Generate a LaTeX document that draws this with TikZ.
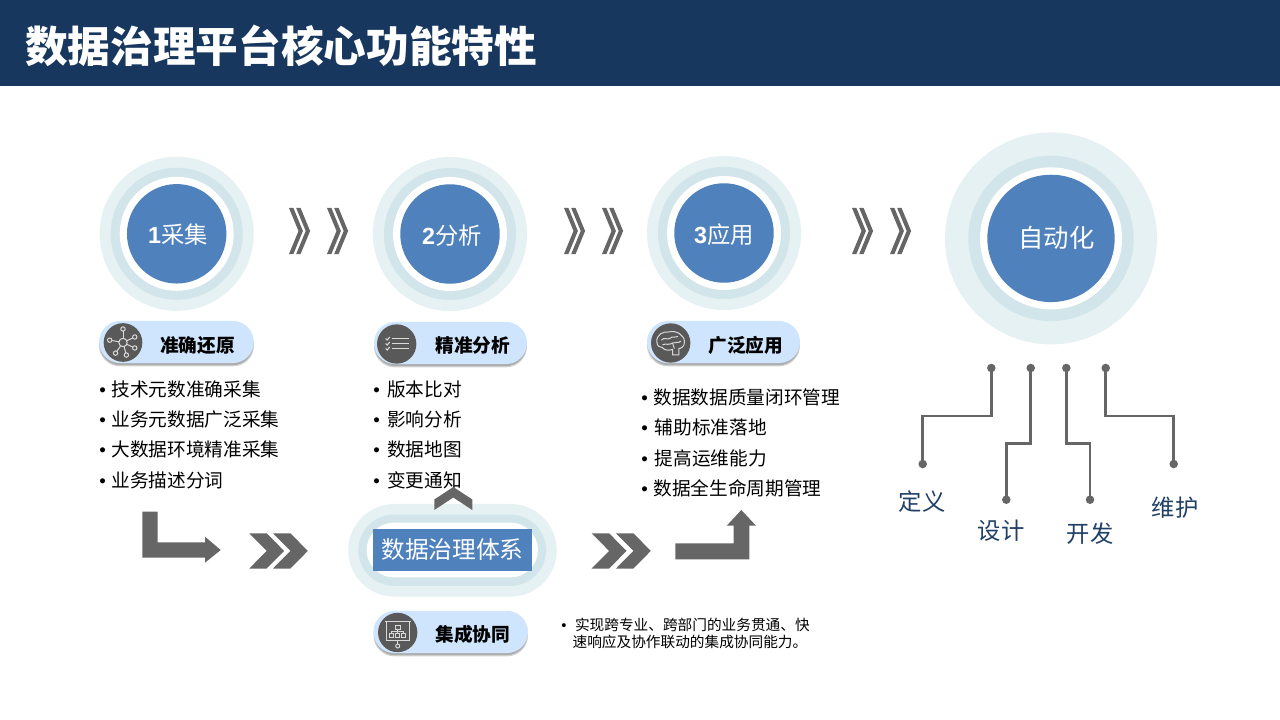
\documentclass[tikz,border=0pt]{standalone}
\usepackage{fontspec}
\setmainfont{Noto Sans CJK SC}
\newfontfamily\latinfont{Liberation Sans}
\definecolor{navy}{HTML}{17375E}
\definecolor{ringa}{HTML}{E5F1F3}
\definecolor{ringb}{HTML}{D2E5EA}
\definecolor{blue}{HTML}{4F81BD}
\definecolor{pillblue}{HTML}{CFE5FD}
\definecolor{ink}{HTML}{666666}
\definecolor{labelnavy}{HTML}{1F3F66}
\definecolor{icondark}{HTML}{595959}
\definecolor{iconline}{HTML}{D9D9D9}
\newcommand{\bul}{{\latinfont •}\hspace{4.2pt}}
\newcommand{\num}[1]{{\latinfont\bfseries #1}}
\tikzset{
  disc/.style={circle,inner sep=0pt,draw=none},
  ringlabel/.style={inner sep=0pt,text=white,font=\fontsize{17.5}{20}\selectfont},
  item/.style={anchor=west,inner sep=0pt,text=black,font=\fontsize{14}{16}\selectfont},
  pillbox/.style={rectangle,rounded corners=15.8pt,fill=pillblue,minimum width=116pt,minimum height=31.6pt,inner sep=0pt},
  pillhead/.style={inner sep=0pt,text=black,font=\fontsize{14}{16}\selectfont\bfseries},
  icondisc/.style={disc,fill=icondark,minimum size=29.5pt},
  iconstroke/.style={draw=iconline,line width=0.75pt,fill=none},
  solidgray/.style={fill=ink,draw=none},
  lead/.style={draw=ink,line width=1.9pt},
  dot/.style={disc,fill=ink,minimum size=6.4pt},
  stagelabel/.style={inner sep=0pt,text=labelnavy,font=\fontsize{17.5}{20}\selectfont}
}
\newcommand{\thinchev}[1]{%
  \fill[ink] (#1,208) -- ++(4.4,0) -- ++(9.5,23) -- ++(-9.5,23) -- ++(-4.4,0) -- ++(9.5,-23) -- cycle;
  \fill[ink] (#1+7.2,208) -- ++(4.4,0) -- ++(9.5,23) -- ++(-9.5,23) -- ++(-4.4,0) -- ++(9.5,-23) -- cycle;}
\newcommand{\fatchev}[1]{%
  \fill[solidgray] (#1,533.3) -- ++(17.4,0) -- ++(17.4,17.6) -- ++(-17.4,17.6) -- ++(-17.4,0) -- ++(17.4,-17.6) -- cycle;}
\newcommand{\pillshade}[4]{%
  \fill[black!18,rounded corners=15.8pt] (#1,#2+3.4) rectangle (#3,#4+3.4);
  \fill[black!32,rounded corners=15.8pt] (#1+.5,#2+2.2) rectangle (#3-.5,#4+2.2);}
\begin{document}
\begin{tikzpicture}[x=0.75pt,y=-0.75pt]
\useasboundingbox (0,0) rectangle (1280,720);
% header
\fill[navy] (0,0) rectangle (1280,86);
\node[anchor=west,inner sep=0pt,text=white,font=\fontsize{32}{36}\selectfont\bfseries] (title) at (25,46) {数据治理平台核心功能特性};

% circles
\foreach \n/\cx/\cy in {a/176.7/233.8,b/450/234,c/724/233}{
  \node[disc,fill=ringa,minimum size=115.6pt] (\n o) at (\cx,\cy) {};
  \node[disc,fill=ringb,minimum size=99pt] (\n m) at (\cx,\cy) {};
  \node[disc,fill=white,minimum size=85.5pt] (\n w) at (\cx,\cy) {};
  \node[disc,fill=blue,minimum size=74.6pt] (\n b) at (\cx,\cy) {};
}
\node[ringlabel] (c1) at (178,235) {\num{1}采集};
\node[ringlabel] (c2) at (452,235.5) {\num{2}分析};
\node[ringlabel] (c3) at (724,235) {\num{3}应用};
\node[disc,fill=ringa,minimum size=159pt] (do) at (1051,238.4) {};
\node[disc,fill=ringb,minimum size=124pt] (dm) at (1051,238.4) {};
\node[disc,fill=white,minimum size=106.5pt] (dw) at (1051,238.4) {};
\node[disc,fill=blue,minimum size=95.5pt] (c4) at (1051,238.4) {};
\node[inner sep=0pt,text=white,font=\fontsize{19}{22}\selectfont] (c4t) at (1056.5,238) {自动化};

% thin chevrons
\thinchev{289}\thinchev{327}
\thinchev{564}\thinchev{602}
\thinchev{852}\thinchev{890}

% pills
\pillshade{99}{321}{254}{363}
\node[pillbox] (p1) at (176.5,342) {};
\node[icondisc,minimum size=29pt] (i1) at (123,342.5) {};
\node[pillhead] (p1t) at (197.5,345) {准确还原};
\pillshade{374}{322}{527}{364}
\node[pillbox,minimum width=114.8pt] (p2) at (450.5,343) {};
\node[icondisc] (i2) at (396.7,344) {};
\node[pillhead] (p2t) at (472.7,345) {精准分析};
\pillshade{647}{321}{800}{363}
\node[pillbox,minimum width=114.8pt] (p3) at (723.5,342) {};
\node[icondisc] (i3) at (670.7,343) {};
\node[pillhead] (p3t) at (745.7,345) {广泛应用};
\pillshade{373.5}{611}{528}{653}
\node[pillbox] (p4) at (450.7,632) {};
\node[icondisc] (i4) at (397.7,632.5) {};
\node[pillhead] (p4t) at (472.7,634) {集成协同};

% icon: network
\begin{scope}[shift={(i1.center)}]
  \draw[iconstroke] (0,0) circle (4.2);
  \foreach \a/\r in {-90/13.5,-25/13,25/13,75/13,125/13,190/13.5}{
    \draw[iconstroke] (\a:4.2) -- (\a:\r-2.2);
    \draw[iconstroke] (\a:\r) circle (2.2);
  }
\end{scope}
% icon: check list
\begin{scope}[shift={(i2.center)}]
  \foreach \yy in {-5.5,-0.5,4.5}{
    \draw[draw=iconline,line width=1.3pt] (-5,\yy) -- (12,\yy);
    \draw[draw=iconline,line width=0.8pt] (-11,\yy) -- (-9.5,\yy+1.5) -- (-7,\yy-1.5);
  }
\end{scope}
% icon: brain
\begin{scope}[shift={(i3.center)},scale=0.92]
  \draw[iconstroke] (-15,-1) .. controls (-16,-9) and (-8,-13) .. (-2,-12)
    .. controls (6,-14) and (15,-9) .. (15,-1)
    .. controls (15,4) and (11,6) .. (9,6)
    -- (9,13) -- (2,13) -- (2,7)
    .. controls (-3,9) and (-8,7) .. (-9,5)
    .. controls (-12,5) and (-15,3) .. (-15,-1) -- cycle;
  \draw[iconstroke] (-10,-3) .. controls (-7,-7) and (-4,-3) .. (-1,-5)
    .. controls (2,-8) and (5,-5) .. (8,-7);
  \draw[iconstroke] (-9,2) .. controls (-5,0) and (-2,3) .. (2,0)
    .. controls (5,-2) and (8,1) .. (11,-2);
  \draw[iconstroke] (2,0) -- (4,6);
\end{scope}
% icon: presentation board
\begin{scope}[shift={(i4.center)}]
  \draw[iconstroke] (-13,-11) -- (13,-11);
  \draw[iconstroke] (-11.5,-11) rectangle (11.5,8);
  \draw[iconstroke] (0,8) -- (0,11.5);
  \draw[iconstroke] (0,13.5) circle (2);
  \draw[iconstroke] (-2.5,-7) rectangle (2.5,-3);
  \draw[iconstroke] (0,-3) -- (0,1);
  \draw[iconstroke] (-6,1) -- (-6,-1) -- (6,-1) -- (6,1);
  \foreach \xx in {-6,0,6}{\draw[iconstroke] (\xx-2,1) rectangle (\xx+2,5);}
\end{scope}

% bullet lists
\node[item] (a1) at (99,389.5) {\bul 技术元数准确采集};
\node[item] (a2) at (99,419.5) {\bul 业务元数据广泛采集};
\node[item] (a3) at (99,449.5) {\bul 大数据环境精准采集};
\node[item] (a4) at (99,480.5) {\bul 业务描述分词};
\node[item] (b1) at (373,389.5) {\bul\hspace{1.4pt}版本比对};
\node[item] (b2) at (373,419.5) {\bul\hspace{1.4pt}影响分析};
\node[item] (b3) at (373,449.5) {\bul\hspace{1.4pt}数据地图};
\node[item] (b4) at (373,480.5) {\bul\hspace{1.4pt}变更通知};
\node[item] (e1) at (641,397.5) {\bul 数据数据质量闭环管理};
\node[item] (e2) at (641,427.5) {\bul\hspace{1pt}辅助标准落地};
\node[item] (e3) at (641,458) {\bul\hspace{1pt}提高运维能力};
\node[item] (e4) at (641,488.5) {\bul 数据全生命周期管理};

% L arrow and chevrons
\fill[solidgray] (142.3,511.7) -- (157.7,511.7) -- (157.7,542.3) -- (205,542.3) -- (205,536.7) -- (220.7,550) -- (205,562.7) -- (205,557.7) -- (142.3,557.7) -- cycle;
\fatchev{249.3}\fatchev{273}
\fatchev{591.7}\fatchev{616}
\fill[solidgray] (675.3,543.3) -- (733.7,543.3) -- (733.7,525.7) -- (726.7,525.7) -- (741.3,510) -- (756,525.7) -- (749.3,525.7) -- (749.3,559.3) -- (675.3,559.3) -- cycle;

% centre stadium
\node[rectangle,rounded corners=34.7pt,fill=ringa,minimum width=156.4pt,minimum height=69.5pt,inner sep=0pt] (so) at (452.5,550.3) {};
\node[rectangle,rounded corners=26.8pt,fill=ringb,minimum width=140.8pt,minimum height=53.5pt,inner sep=0pt] (sm) at (452.2,550.2) {};
\node[rectangle,rounded corners=20.5pt,fill=white,minimum width=128.5pt,minimum height=41pt,inner sep=0pt] (sw) at (452.3,550) {};
\node[rectangle,fill=blue,text=white,minimum width=119.3pt,minimum height=31.3pt,inner sep=0pt,font=\fontsize{17.8}{20}\selectfont] (core) at (452.5,549.8) {数据治理体系};
\fill[solidgray] (434.3,499.5) -- (453.3,487) -- (472.3,499.5) -- (472.3,510) -- (453.3,497.5) -- (434.3,510) -- cycle;

% note
\node[anchor=north west,inner sep=0pt,align=left,text=black,font=\fontsize{11}{12.75}\selectfont] (note) at (561,617.5) {{\latinfont •}\hspace{6.5pt}实现跨专业、跨部门的业务贯通、快\\\hspace{8.5pt}速响应及协作联动的集成协同能力。};

% lifecycle leads
\node[dot] (t1) at (991.3,368) {};
\node[dot] (t2) at (1030.7,368) {};
\node[dot] (t3) at (1066.3,368) {};
\node[dot] (t4) at (1105.7,368) {};
\node[dot] (u1) at (922.7,464) {};
\node[dot] (u2) at (1006.3,499.7) {};
\node[dot] (u3) at (1090,499.7) {};
\node[dot] (u4) at (1173.7,464) {};
\draw[lead] (t1.center) -- (t1.center |- 0,416) -| (u1.center);
\draw[lead] (t2.center) -- (t2.center |- 0,443.3) -| (u2.center);
\draw[lead] (t3.center) -- (t3.center |- 0,443.3) -| (u3.center);
\draw[lead] (t4.center) -- (t4.center |- 0,416) -| (u4.center);
\node[stagelabel] (s1) at (922,502) {定义};
\node[stagelabel] (s2) at (1001,531) {设计};
\node[stagelabel] (s3) at (1090,534) {开发};
\node[stagelabel] (s4) at (1175,508) {维护};
\end{tikzpicture}
\end{document}
